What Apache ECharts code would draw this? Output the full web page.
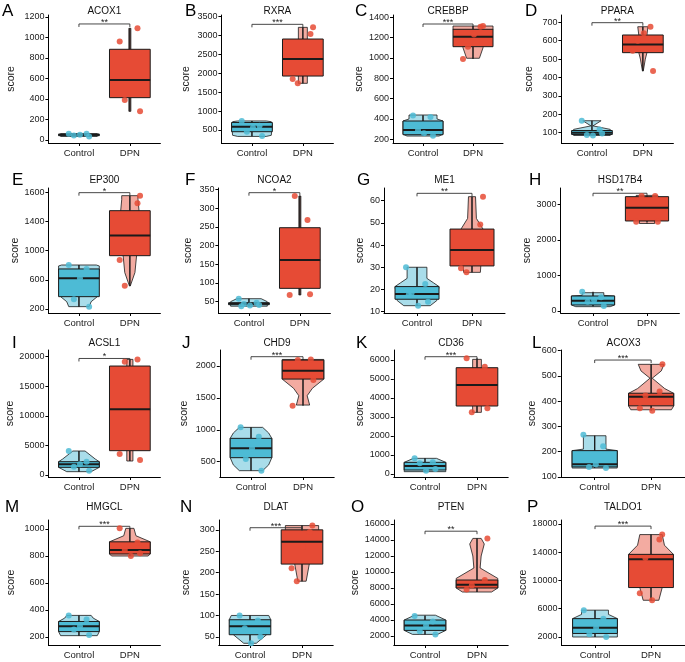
<!DOCTYPE html>
<html><head><meta charset="utf-8">
<script src="https://cdn.jsdelivr.net/npm/echarts@6/dist/echarts.min.js"></script>
<style>html,body{margin:0;padding:0;background:#fff}#c{width:685px;height:662px}</style>
</head><body><div id="c"></div>
<script>
// ---------------- DATA ----------------
const genes = ['ACOX1','RXRA','CREBBP','PPARA','EP300','NCOA2','ME1','HSD17B4','ACSL1','CHD9','CD36','ACOX3','HMGCL','DLAT','PTEN','TALDO1'];
const letters = ['A','B','C','D','E','F','G','H','I','J','K','L','M','N','O','P'];
const groups = ['Control','DPN'];
const stars = ['**','***','***','**','*','*','**','**','*','***','***','***','***','***','**','***'];
const bracketY = [1132, 3298, 1334, 698, 1795, 341, 63.3, 3310, 19700, 2146, 6173, 563, 1020, 305, 15100, 17700];

const ctrlPoints = [
 [62, 60, 45, 35, 50],
 [740, 610, 455, 340, 560],
 [435, 420, 290, 235, 260],
 [165, 118, 88, 96, 85],
 [803, 749, 333, 232, 620],
 [58, 47, 44, 41, 40, 38],
 [30, 22.5, 18.3, 14.5, 12.7, 17.5],
 [544, 384, 262, 141, 300],
 [4056, 2253, 1408, 732, 1800],
 [1038, 892, 542, 359, 709],
 [824, 614, 561, 263, 175],
 [267, 221, 139, 135, 150],
 [360, 330, 255, 215, 280],
 [100, 88, 70, 50, 35],
 [4500, 3800, 2600, 2200, 3300],
 [5800, 4600, 2400, 2000, 3300]
];
const dpnPoints = [
 [960, 1090, 390, 280],
 [1850, 3040, 1740, 3220],
 [990, 1308, 1111, 1314, 1230],
 [545, 676, 600, 435, 640],
 [872, 1649, 520, 1754],
 [68, 268, 332, 70],
 [29.5, 49.3, 27.7, 61.8],
 [2512, 3234, 3234, 2512],
 [3549, 19547, 19153, 2535],
 [1377, 2103, 2093, 1780],
 [6086, 5648, 3245, 3455],
 [372, 438, 422, 546, 362],
 [1005, 900, 845, 820, 800],
 [210, 295, 180, 310, 260],
 [7800, 9000, 8300, 14200],
 [8200, 15800, 13200, 16500, 7200]
];
// [min, q1, median, q3, max]
const ctrlBoxes = [
 [35, 42, 50, 57, 62],
 [340, 455, 587, 700, 740],
 [232, 245, 291, 380, 435],
 [85, 90, 100, 112, 165],
 [232, 369, 621, 749, 803],
 [38, 42, 45, 47, 58],
 [12.7, 15.6, 18, 21.3, 30],
 [141, 169, 290, 422, 544],
 [563, 1296, 1803, 2253, 4056],
 [359, 563, 709, 866, 1038],
 [123, 210, 421, 614, 824],
 [135, 139.5, 150, 204, 263],
 [210, 240, 280, 315, 360],
 [35, 55, 75, 90, 100],
 [2200, 2700, 3300, 4000, 4500],
 [2000, 2500, 3300, 4600, 5800]
];
const dpnBoxes = [
 [280, 413, 585, 885, 1090],
 [1740, 1929, 2379, 2909, 3220],
 [990, 1111, 1209, 1282, 1314],
 [435, 535, 580, 631, 676],
 [520, 931, 1206, 1548, 1754],
 [68, 85.6, 161, 247.5, 332],
 [27.7, 30.6, 37.8, 47.2, 61.8],
 [2512, 2531, 2906, 3215, 3234],
 [2366, 4112, 11097, 18420, 19547],
 [1377, 1795, 1926, 2093, 2103],
 [3245, 3578, 4683, 5595, 6086],
 [362, 381.5, 418, 431.5, 546],
 [800, 815, 845, 905, 1005],
 [180, 220, 272, 300, 310],
 [7500, 8000, 8400, 9000, 14200],
 [7200, 9000, 13000, 13700, 16500]
];
// violin profiles: [score, relative half-width]
const ctrlViolins = [
 [[35,0.9],[62,0.9]],
 [[330,0.7],[360,0.95],[650,1],[720,0.95],[740,0.7]],
 [[232,0.8],[250,1],[380,1],[400,0.7],[439,0.7]],
 [[85,0.9],[118,0.9],[137,0.05],[165,0.45]],
 [[232,0.5],[300,0.6],[369,0.9],[749,1],[790,1],[803,0.85]],
 [[38,0.9],[50,0.9],[58,0.6]],
 [[12.7,0.6],[15,0.9],[21.3,1],[23,0.75],[25,0.45],[30,0.45]],
 [[122,0.8],[169,1],[422,1],[440,0.5],[515,0.5]],
 [[563,0.6],[1296,1],[2253,1],[2700,0.8],[4056,0.3]],
 [[359,0.56],[450,0.85],[563,1],[866,1],[950,0.85],[1038,0.56]],
 [[123,1],[614,1],[824,0.55]],
 [[135,1],[204,1],[210,0.5],[263,0.5]],
 [[210,0.9],[240,1],[315,1],[340,0.7],[360,0.6]],
 [[35,0.3],[55,0.8],[90,1],[100,0.9]],
 [[2200,0.6],[2700,1],[4000,1],[4600,0.5]],
 [[2000,1],[2500,1],[4600,1],[5200,0.6],[5800,0.6]]
];
const dpnViolins = [
 [[280,0.05],[1090,0.05]],
 [[1736,0.22],[3218,0.22]],
 [[997,0.32],[1100,0.5],[1150,0.55],[1282,1],[1314,1]],
 [[435,0.02],[500,0.12],[535,0.2],[631,0.2],[676,0.25]],
 [[515,0.02],[700,0.25],[931,0.33],[1548,0.45],[1700,0.4],[1754,0.4]],
 [[68,0.05],[332,0.05]],
 [[27.7,0.38],[30.6,0.4],[47.2,0.5],[52,0.2],[61.8,0.16]],
 [[2460,0.35],[2531,0.35],[3215,0.5],[3250,0.5]],
 [[2366,0.15],[19547,0.15]],
 [[1388,0.32],[1534,0.2],[1650,0.45],[1795,1],[2103,1]],
 [[3245,0.21],[6034,0.21]],
 [[366,0.9],[381,1],[431,1],[450,0.6],[491,0.05],[520,0.45],[546,0.57]],
 [[800,0.9],[815,1],[905,1],[950,0.3],[1005,0.2]],
 [[180,0.2],[220,0.35],[300,0.8],[310,0.8]],
 [[7500,0.7],[8000,1],[9200,1],[10500,0.15],[12000,0.2],[13500,0.35],[14200,0.2]],
 [[7200,0.35],[9000,0.5],[13700,1],[15000,0.6],[16500,0.5]]
];
const yTickValues = [
 [0,200,400,600,800,1000,1200],
 [500,1000,1500,2000,2500,3000,3500],
 [200,400,600,800,1000,1200,1400],
 [100,200,300,400,500,600,700],
 [200,600,1000,1400,1800],
 [50,100,150,200,250,300,350],
 [10,20,30,40,50,60],
 [0,1000,2000,3000],
 [0,5000,10000,15000,20000],
 [500,1000,1500,2000],
 [0,1000,2000,3000,4000,5000,6000],
 [100,200,300,400,500,600],
 [200,400,600,800,1000],
 [50,100,150,200,250,300],
 [2000,4000,6000,8000,10000,12000,14000,16000],
 [2000,6000,10000,14000,18000]
];
const yTickLabels = [
 ['0','200','400','600','800','1000','1200'],
 ['500','1000','1500','2000','2500','3000','3500'],
 ['200','400','600','800','1000','1200','1400'],
 ['100','200','300','400','500','600','700'],
 ['200','600','1000','1400','1600'],
 ['50','100','150','200','250','300','350'],
 ['10','20','30','40','50','60'],
 ['0','1000','2000','3000'],
 ['0','5000','10000','15000','20000'],
 ['500','1000','1500','2000'],
 ['0','1000','2000','3000','4000','5000','6000'],
 ['100','200','300','400','500','600'],
 ['200','400','600','800','1000'],
 ['50','100','150','200','250','300'],
 ['2000','4000','6000','8000','10000','12000','14000','16000'],
 ['2000','6000','10000','14000','18000']
];

// ---------------- LAYOUT / STYLE ----------------
const gridLeft = [48.4,221.4,393,561.4, 48.4,218.4,384,560.6, 48.4,219.8,393.8,560.8, 48.4,218.8,393.8,561.4];
const gridWidth = [112,112,110,112, 112,112,121,118.8, 112,114.4,114.4,125.4, 112,114.4,114.4,123.2];
const rowTop = [15, 188, 350, 520];
const rowBottom = [143, 313, 477, 645];
const titleTop = [6, 175, 338, 502];
const letterTop = [3, 172, 335, 499];
const letterLeft = [2,185,355,525, 12,185,357,529, 12,182,356,532, 5,180,351,527];
const yMin = [-29.3,156,163.6,44, 145,19.8,9.4,-56, -338,260,-158,99.5, 140.7,31,875,867];
const yMax = [1219.5,3545,1422.6,739.7, 1859,353.5,65.7,3458, 21132,2251,6526,602.8, 1066.7,323,16500,18566];
const nameGaps = [32,30,28,27, 28,25,18,26, 33,30,27,20, 32,27,29,29];
const JIT = [-0.2, 0.15, -0.1, 0.2, 0.02, -0.15];
const BOX_HALF = 0.4;
const FONT = '"Liberation Sans", Arial, Helvetica, sans-serif';
const EDGE = '#1a1a1a';
const C_BOX = '#4DBBD5', C_LIGHT = '#A9DDEA', C_PT = '#4DBBD5';
const D_BOX = '#E64B35', D_LIGHT = '#F3ABA1', D_PT = '#E64B35';

function renderGroup(params, api) {
  const g = api.value(0), p = api.value(2);
  const isC = g === 1;
  const box = (isC ? ctrlBoxes : dpnBoxes)[p];
  const vio = (isC ? ctrlViolins : dpnViolins)[p];
  const half = api.size([BOX_HALF, 0])[0];
  const cx = api.coord([g, box[2]])[0];
  const Y = v => api.coord([g, v])[1];
  const ch = [];
  if (vio && vio.length) {
    const right = vio.map(([v, w]) => [cx + w * half, Y(v)]);
    const left = vio.slice().reverse().map(([v, w]) => [cx - w * half, Y(v)]);
    ch.push({type:'polygon', shape:{points: right.concat(left)}, style:{fill: isC ? C_LIGHT : D_LIGHT, stroke: EDGE, lineWidth: 0.8}});
    ch.push({type:'line', shape:{x1:cx, y1:Y(vio[0][0]), x2:cx, y2:Y(vio[vio.length-1][0])}, style:{stroke:EDGE, lineWidth:0.8}});
  }
  ch.push({type:'line', shape:{x1:cx, y1:Y(box[3]), x2:cx, y2:Y(box[4])}, style:{stroke:EDGE, lineWidth:1.2}});
  ch.push({type:'line', shape:{x1:cx, y1:Y(box[1]), x2:cx, y2:Y(box[0])}, style:{stroke:EDGE, lineWidth:1.2}});
  ch.push({type:'rect', shape:{x:cx-half, y:Y(box[3]), width:2*half, height:Y(box[1])-Y(box[3])}, style:{fill: isC ? C_BOX : D_BOX, stroke: EDGE, lineWidth: 1}});
  ch.push({type:'line', shape:{x1:cx-half, y1:Y(box[2]), x2:cx+half, y2:Y(box[2])}, style:{stroke:EDGE, lineWidth:2}});
  return {type:'group', children: ch};
}

function renderBracket(params, api) {
  const p = api.value(2);
  const a = api.coord([1, api.value(1)]);
  const b = api.coord([2, api.value(1)]);
  return {type:'group', children:[
    {type:'polyline', shape:{points:[[a[0], a[1]+3],[a[0],a[1]],[b[0],b[1]],[b[0],b[1]+3]]}, style:{stroke:'#333', lineWidth:0.9, fill:null}},
    {type:'text', x:(a[0]+b[0])/2, y:a[1]+3, style:{text: stars[p], fontSize:9, fontFamily:FONT, fill:'#222', align:'center', verticalAlign:'bottom'}}
  ]};
}

const grids = [], xAxes = [], yAxes = [], series = [], titles = [];
for (let p = 0; p < 16; p++) {
  const row = Math.floor(p / 4);
  grids.push({left: gridLeft[p], top: rowTop[row], width: gridWidth[p], height: rowBottom[row] - rowTop[row]});
  xAxes.push({gridIndex:p, type:'value', min:0.4, max:2.6,
    axisLine:{show:true, onZero:false, lineStyle:{color:'#000', width:1}},
    axisTick:{show:true, customValues:[1,2], length:3, lineStyle:{color:'#000'}},
    axisLabel:{customValues:[1,2], formatter: v => groups[Math.round(v)-1], color:'#1a1a1a', fontSize:9.5, margin:5, fontFamily:FONT},
    splitLine:{show:false}});
  const tv = yTickValues[p], tl = yTickLabels[p];
  yAxes.push({gridIndex:p, type:'value', min:yMin[p], max:yMax[p],
    name:'score', nameLocation:'middle', nameGap:nameGaps[p],
    nameTextStyle:{fontSize:10.5, color:'#1a1a1a', fontFamily:FONT},
    axisLine:{show:true, onZero:false, lineStyle:{color:'#000', width:1}},
    axisTick:{show:true, customValues:tv, length:3, lineStyle:{color:'#000'}},
    axisLabel:{customValues:tv, formatter: v => { const i = tv.findIndex(t => Math.abs(t - v) < 1e-6); return i >= 0 ? tl[i] : ''; }, color:'#1a1a1a', fontSize:9, margin:4, fontFamily:FONT},
    splitLine:{show:false}});
  titles.push({text: genes[p], left: gridLeft[p] + gridWidth[p]/2, top: titleTop[row], textAlign:'center', padding:0,
    textStyle:{fontSize:10, fontWeight:'normal', color:'#111', fontFamily:FONT}});
  titles.push({text: letters[p], left: letterLeft[p], top: letterTop[row], padding:0,
    textStyle:{fontSize:17, fontWeight:'normal', color:'#000', fontFamily:FONT}});
  series.push({type:'custom', xAxisIndex:p, yAxisIndex:p, renderItem: renderGroup, silent:true, z:2,
    encode:{x:0, y:1}, data:[[1, ctrlBoxes[p][2], p], [2, dpnBoxes[p][2], p]]});
  series.push({type:'scatter', xAxisIndex:p, yAxisIndex:p, silent:true, z:4, symbolSize:6,
    itemStyle:{color:C_PT, opacity:0.85},
    data: ctrlPoints[p].map((v, i) => [1 + JIT[i % JIT.length], v])});
  series.push({type:'scatter', xAxisIndex:p, yAxisIndex:p, silent:true, z:4, symbolSize:6,
    itemStyle:{color:D_PT, opacity:0.85},
    data: dpnPoints[p].map((v, i) => [2 + JIT[i % JIT.length], v])});
  series.push({type:'custom', xAxisIndex:p, yAxisIndex:p, renderItem: renderBracket, silent:true, z:3,
    encode:{x:0, y:1}, data:[[1.5, bracketY[p], p]]});
}

const chart = echarts.init(document.getElementById('c'), null, {renderer:'canvas'});
chart.setOption({animation:false, backgroundColor:'#fff', title:titles, grid:grids, xAxis:xAxes, yAxis:yAxes, series:series});
</script>
</body></html>
